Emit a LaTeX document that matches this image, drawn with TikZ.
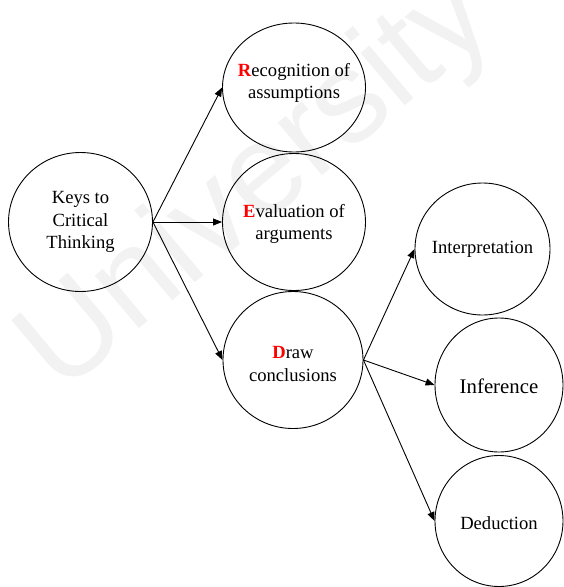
\documentclass[tikz,border=0pt]{standalone}
\usepackage{fontspec}
\setmainfont{Liberation Serif}
\newfontfamily\wmfont{Liberation Sans}
\usetikzlibrary{shapes.geometric,arrows.meta}
\begin{document}
\begin{tikzpicture}[x=1pt,y=-1pt,
  bubble/.style={ellipse,draw=black,line width=0.9pt,inner sep=0pt},
  lbl/.style={align=center,font=\fontsize{18.6}{22.5}\selectfont,inner sep=0pt},
  link/.style={line width=0.9pt,-{Triangle[length=9pt,width=7pt]}}]
\useasboundingbox (0,0) rectangle (564,587);
% faint background lettering
\node[font=\wmfont\fontsize{130}{130}\selectfont,text=black!5,rotate=40,inner sep=0pt] (wm) at (258,186) {University};

% bubbles
\node[bubble,minimum width=144pt,minimum height=139pt] (keys) at (80.5,222) {};
\node[bubble,minimum width=143pt,minimum height=129pt] (rec)  at (294,87.5) {};
\node[bubble,minimum width=143pt,minimum height=137pt] (eva)  at (294,222) {};
\node[bubble,minimum width=140pt,minimum height=137pt] (dra)  at (293,360) {};
\node[bubble,minimum width=135pt,minimum height=132pt] (int)  at (482.5,249) {};
\node[bubble,minimum width=128pt,minimum height=134pt] (inf)  at (499,385) {};
\node[bubble,minimum width=128pt,minimum height=131pt] (ded)  at (499,521) {};

% texts
\node[lbl] (keys-t) at (80.5,222) {Keys to\\Critical\\Thinking};
\node[lbl] (rec-t) at (294,83) {\textcolor{red}{\textbf{R}}ecognition of\\assumptions};
\node[lbl] (eva-t) at (294,224) {\textcolor{red}{\textbf{E}}valuation of\\arguments};
\node[lbl] (dra-t) at (293,364) {\textcolor{red}{\textbf{D}}raw\\conclusions};
\node[lbl] (int-t) at (482.5,249) {Interpretation};
\node[lbl,font=\fontsize{20.8}{25}\selectfont] (inf-t) at (499,386) {Inference};
\node[lbl] (ded-t) at (499,523) {Deduction};

% connectors
\draw[link] (keys.east) -- (rec.west);
\draw[link] (keys.east) -- (eva.west);
\draw[link] (keys.east) -- (dra.west);
\draw[link] (dra.east) -- (int.west);
\draw[link] (dra.east) -- (inf.west);
\draw[link] (dra.east) -- (ded.west);
\end{tikzpicture}
\end{document}
